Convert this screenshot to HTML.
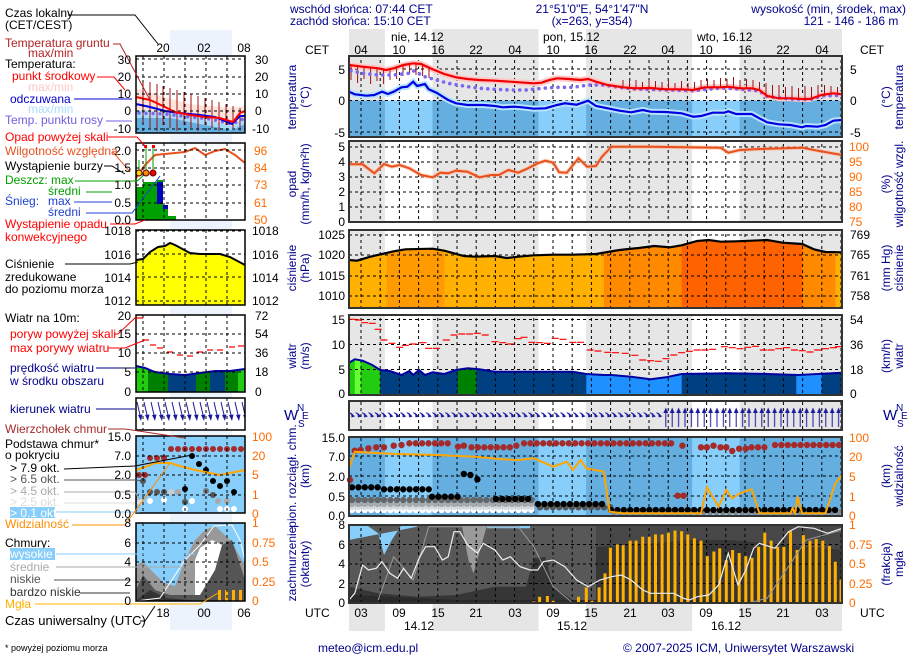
<!DOCTYPE html>
<html><head><meta charset="utf-8"><style>
html,body{margin:0;padding:0;background:#fff;}
svg{display:block;font-family:"Liberation Sans",sans-serif;}
.n{font-size:12px;fill:#000}
.b{font-size:12px;fill:#00008b}
.o{font-size:12px;fill:#ff6a00}
</style></head><body>
<svg width="910" height="660" viewBox="0 0 910 660" xmlns="http://www.w3.org/2000/svg">
<defs>
<pattern id="vg" x="360.5" y="0" width="19.2" height="6" patternUnits="userSpaceOnUse"><rect x="0" y="0" width="1" height="3" fill="#000"/></pattern>
<pattern id="ah" x="349" y="0" width="6.4" height="660" patternUnits="userSpaceOnUse"><path d="M0.3,412.5 L4,415.5" stroke="#1a1aa0" stroke-width="1"/><path d="M6,416.5 L2,412.5 L2.5,417.5Z" fill="#1a1aa0"/></pattern>
<pattern id="av" x="349" y="0" width="6.4" height="660" patternUnits="userSpaceOnUse"><path d="M3.2,427 V411" stroke="#1a1aa0" stroke-width="1"/><path d="M3.2,407.5 L0.8,413 L5.6,413Z" fill="#1a1aa0"/></pattern>
<pattern id="am" x="136" y="0" width="7" height="660" patternUnits="userSpaceOnUse"><path d="M1,402 L4.5,417" stroke="#1a1aa0" stroke-width="1"/><path d="M5,421 L2,415 L6.5,414.5Z" fill="#1a1aa0"/></pattern>
<clipPath id="pc"><polygon points="349,260 356.8,260.7 370.4,256.7 382.1,254 393.7,251.3 405.4,249.3 432.6,248.7 444.3,250.7 463.8,256 475.4,256.7 494.9,256 506.5,258 518.2,256.7 533.8,255.3 553.2,254.7 572.7,254.7 596,254 607.7,252 619.4,250 638.8,248 654.4,246 670,247.3 681.6,245.3 697.2,241 708.8,240 720.5,241.7 736.1,241.3 751.6,240.7 767.2,240 782.7,242.7 802.2,244 813.9,249.3 825.5,252 842,252.3 842,308 349,308"/></clipPath>
<clipPath id="cw"><polygon points="349,362.7 354.8,359.3 362.6,360.7 372.3,365 380.1,370 389.8,371 401.5,375 409.3,371 413.2,375 419,370 424.9,375 432.6,372.3 444.3,374 456,370 467.6,368.3 479.3,369.3 494.9,371.7 572.7,371.7 586.3,374 603.8,375 611.6,375 631,376.7 650.5,379.3 666,377.3 681.6,374 728.3,373.3 767.2,374 798.3,375 842,372.7 842,395 349,395"/></clipPath>
<clipPath id="cm"><polygon points="136,366 145,368 155,372 170,374 185,375 200,373 215,371 230,371 245,369 245,392 136,392"/></clipPath>
<clipPath id="cc"><rect x="349" y="525" width="493" height="78"/></clipPath>
</defs>
<rect x="170" y="30" width="62" height="600" fill="#edf3fc"/>

<g fill="#e6e6e6"><rect x="349" y="29" width="493" height="27"/><rect x="349" y="604" width="493" height="27"/></g>
<g fill="#fff"><rect x="384.9" y="29" width="47.6" height="27"/><rect x="538.5" y="29" width="47.6" height="27"/><rect x="692.1" y="29" width="47.6" height="27"/>
<rect x="384.9" y="604" width="47.6" height="27"/><rect x="538.5" y="604" width="47.6" height="27"/><rect x="692.1" y="604" width="47.6" height="27"/></g>

<!-- TEMPERATURE -->
<rect x="349" y="56" width="493" height="81" fill="#e6e6e6"/>
<g fill="#fff"><rect x="384.9" y="56" width="47.6" height="81"/><rect x="538.5" y="56" width="47.6" height="81"/><rect x="692.1" y="56" width="47.6" height="81"/></g>
<rect x="349" y="100.5" width="493" height="36.5" fill="#64aee0"/>
<g fill="#87cefa"><rect x="384.9" y="100.5" width="47.6" height="36.5"/><rect x="538.5" y="100.5" width="47.6" height="36.5"/><rect x="692.1" y="100.5" width="47.6" height="36.5"/></g>
<rect x="349" y="56" width="493" height="81" fill="url(#vg)"/>
<g stroke="#000" stroke-dasharray="3,3"><line x1="349" x2="842" y1="69" y2="69"/><line x1="349" x2="842" y1="100.5" y2="100.5"/><line x1="349" x2="842" y1="132" y2="132"/></g>
<polyline fill="none" stroke="#b8e4ff" stroke-width="6" points="349,91.7 354.8,94.3 366.5,95.7 374.3,95 382.1,91.7 387.9,94 393.7,91.7 401.5,87.3 407.4,86.7 413.2,81.7 417.1,86 424.9,84 428.7,89.3 436.5,92.7 448.2,100 456,103.3 467.6,105 483.2,105 494.9,106 502.7,107.3 514.3,106.7 522.1,107.3 533.8,108.7 545.4,108.3 557.1,105 564.9,103.3 576.6,104.7 588.2,100.7 596,106 607.7,108.3 619.4,110.7 631,112.3 642.7,110 650.5,111.7 666,112 681.6,113.3 693.3,116.7 701,116 712.7,112.7 724.4,112.7 728.3,111.3 736.1,114 751.6,114 759.4,118.3 767.2,122.3 778.8,124.3 790.5,125 802.2,127.3 806.1,126 817.7,126.7 825.5,125 833.3,120.7 842,120"/>
<polyline fill="none" stroke="#ffc8c8" stroke-width="6" points="349,65 362.6,66.7 378.2,68.3 386,70 393.7,68.3 403.5,65 413.2,63.3 421,64 432.6,69.3 444.3,74 456,77.3 467.6,79 479.3,80 494.9,80.7 510.4,81.7 533.8,83.3 541.6,82.7 549.3,80 557.1,78.3 568.8,79 580.5,80 588.2,79 596,81.7 607.7,85 623.2,87.3 634.9,88.3 650.5,88 666,89.3 681.6,89.3 693.3,90 704.9,87.3 720.5,87.3 728.3,86.7 739.9,88.3 751.6,88.3 759.4,90 767.2,96 778.8,98.3 790.5,98.3 802.2,99 810,99 821.6,95 833.3,93.3 842,94.3"/>
<path fill="none" stroke="#a01010" stroke-width="1" d="M351,65V80 M357.6,66V83 M364,67V79 M370.6,67.5V84 M377,68V81 M383.6,69.5V84 M390,69V80 M396.6,67V79 M403,65V76 M409.6,63.5V74 M416,63.5V75 M422.6,64V76 M429,67.5V78 M623,87V80 M629.5,88V81 M636,88V80 M642.5,88V82 M649,88V80 M655.5,88.5V81 M662,89V82 M668.5,89.3V81 M675,89.3V83 M681.5,89.3V81 M688,90V83 M694.5,89.8V82 M701,88V80 M707.5,87.3V79 M714,87.3V80 M720.5,87.3V78 M727,86.7V79 M733.5,87.5V77 M740,88.3V80 M746.5,88.3V79 M753,88.5V80 M759.5,90V82 M766,95V83 M772.5,97.5V85 M779,98.3V85 M785.5,98.3V87 M792,98.4V86 M798.5,98.8V88 M805,99V86 M811.5,98.5V87 M818,96V85 M824.5,94.5V85 M831,93.5V86 M837.5,94V87"/>
<polyline fill="none" stroke="#7b68ee" stroke-width="3.6" stroke-linecap="round" stroke-dasharray="0 6.4" points="351,70.7 362.6,73.3 378.2,75 393.7,75 409,73.3 413.2,70.7 424.9,76.7 436.5,80 448.2,83.3 463.7,86 479.3,88.3 494.9,89.3 510.4,90 526,90 541.6,88.3 557.1,87.3 572.7,87.3 588.2,85 603.8,85 619.4,87.3 634.9,89 666,90 693.3,90.7 720.5,88 739.9,89 759.4,91 767.2,96.5 790.5,99 810,99.6 821.6,96 841,95.3"/>
<polyline fill="none" stroke="#0000e0" stroke-width="2.2" points="349,91.7 354.8,94.3 366.5,95.7 374.3,95 382.1,91.7 387.9,94 393.7,91.7 401.5,87.3 407.4,86.7 413.2,81.7 417.1,86 424.9,84 428.7,89.3 436.5,92.7 448.2,100 456,103.3 467.6,105 483.2,105 494.9,106 502.7,107.3 514.3,106.7 522.1,107.3 533.8,108.7 545.4,108.3 557.1,105 564.9,103.3 576.6,104.7 588.2,100.7 596,106 607.7,108.3 619.4,110.7 631,112.3 642.7,110 650.5,111.7 666,112 681.6,113.3 693.3,116.7 701,116 712.7,112.7 724.4,112.7 728.3,111.3 736.1,114 751.6,114 759.4,118.3 767.2,122.3 778.8,124.3 790.5,125 802.2,127.3 806.1,126 817.7,126.7 825.5,125 833.3,120.7 842,120"/>
<polyline fill="none" stroke="#f00000" stroke-width="2.2" points="349,65 362.6,66.7 378.2,68.3 386,70 393.7,68.3 403.5,65 413.2,63.3 421,64 432.6,69.3 444.3,74 456,77.3 467.6,79 479.3,80 494.9,80.7 510.4,81.7 533.8,83.3 541.6,82.7 549.3,80 557.1,78.3 568.8,79 580.5,80 588.2,79 596,81.7 607.7,85 623.2,87.3 634.9,88.3 650.5,88 666,89.3 681.6,89.3 693.3,90 704.9,87.3 720.5,87.3 728.3,86.7 739.9,88.3 751.6,88.3 759.4,90 767.2,96 778.8,98.3 790.5,98.3 802.2,99 810,99 821.6,95 833.3,93.3 842,94.3"/>
<rect x="349" y="56" width="493" height="81" fill="none" stroke="#333" stroke-width="2"/>

<!-- PRECIP -->
<rect x="349" y="141" width="493" height="81" fill="#e6e6e6"/>
<g fill="#fff"><rect x="384.9" y="141" width="47.6" height="81"/><rect x="538.5" y="141" width="47.6" height="81"/><rect x="692.1" y="141" width="47.6" height="81"/></g>
<rect x="349" y="141" width="493" height="81" fill="url(#vg)"/>
<g stroke="#000" stroke-dasharray="3,3"><line x1="349" x2="842" y1="147" y2="147"/><line x1="349" x2="842" y1="162" y2="162"/><line x1="349" x2="842" y1="177" y2="177"/><line x1="349" x2="842" y1="192" y2="192"/><line x1="349" x2="842" y1="207" y2="207"/></g>
<polyline fill="none" stroke="#ffb090" stroke-opacity="0.6" stroke-width="4" points="349,164.3 362.6,164.3 374.3,173.3 384,164 391.8,166.7 399.6,165 409.3,168.3 421,175 432.6,177.3 440.4,172.7 448.2,173.3 456,170.7 467.6,171.7 479.3,177.3 491,175 498.8,175 508.5,170 518.2,172.7 527.9,168.3 537.7,163.3 545.4,160.7 553.2,162.7 559.1,172.3 566.8,172.7 578.5,158.3 587.1,166.7 596,166 601.9,156.7 611.6,146.7 623.2,146.7 650.5,146.7 720.5,147.7 728.3,152.7 739.9,150 767.2,148.7 802.2,147.7 817.7,150.7 842,155"/>
<polyline fill="none" stroke="#e8501e" stroke-width="2" points="349,164.3 362.6,164.3 374.3,173.3 384,164 391.8,166.7 399.6,165 409.3,168.3 421,175 432.6,177.3 440.4,172.7 448.2,173.3 456,170.7 467.6,171.7 479.3,177.3 491,175 498.8,175 508.5,170 518.2,172.7 527.9,168.3 537.7,163.3 545.4,160.7 553.2,162.7 559.1,172.3 566.8,172.7 578.5,158.3 587.1,166.7 596,166 601.9,156.7 611.6,146.7 623.2,146.7 650.5,146.7 720.5,147.7 728.3,152.7 739.9,150 767.2,148.7 802.2,147.7 817.7,150.7 842,155"/>
<rect x="349" y="141" width="493" height="81" fill="none" stroke="#333" stroke-width="2"/>

<!-- PRESSURE -->
<rect x="349" y="230" width="493" height="78" fill="#e6e6e6"/>
<g fill="#fff"><rect x="384.9" y="230" width="47.6" height="78"/><rect x="538.5" y="230" width="47.6" height="78"/><rect x="692.1" y="230" width="47.6" height="78"/></g>
<g clip-path="url(#pc)">
<rect x="349" y="230" width="38" height="78" fill="#ffb000"/><rect x="386.7" y="230" width="58" height="78" fill="#ff9a00"/><rect x="444.3" y="230" width="160" height="78" fill="#ffb000"/><rect x="603.8" y="230" width="78.2" height="78" fill="#ff8a00"/><rect x="681.6" y="230" width="121" height="78" fill="#ff6200"/><rect x="802.2" y="230" width="33.4" height="78" fill="#ff8a00"/><rect x="835.3" y="230" width="7" height="78" fill="#ffb000"/>
</g>
<rect x="349" y="230" width="493" height="78" fill="url(#vg)"/>
<g stroke="#000" stroke-dasharray="3,3"><line x1="349" x2="842" y1="235" y2="235"/><line x1="349" x2="842" y1="255" y2="255"/><line x1="349" x2="842" y1="276" y2="276"/><line x1="349" x2="842" y1="296" y2="296"/></g>
<polyline fill="none" stroke="#000" stroke-width="2.2" points="349,260 356.8,260.7 370.4,256.7 382.1,254 393.7,251.3 405.4,249.3 432.6,248.7 444.3,250.7 463.8,256 475.4,256.7 494.9,256 506.5,258 518.2,256.7 533.8,255.3 553.2,254.7 572.7,254.7 596,254 607.7,252 619.4,250 638.8,248 654.4,246 670,247.3 681.6,245.3 697.2,241 708.8,240 720.5,241.7 736.1,241.3 751.6,240.7 767.2,240 782.7,242.7 802.2,244 813.9,249.3 825.5,252 842,252.3"/>
<rect x="349" y="230" width="493" height="78" fill="none" stroke="#333" stroke-width="2"/>

<!-- WIND -->
<rect x="349" y="315" width="493" height="80" fill="#e6e6e6"/>
<g fill="#fff"><rect x="384.9" y="315" width="47.6" height="80"/><rect x="538.5" y="315" width="47.6" height="80"/><rect x="692.1" y="315" width="47.6" height="80"/></g>
<g clip-path="url(#cw)">
<rect x="349" y="315" width="6" height="80" fill="#22cc11"/><rect x="354.8" y="315" width="6" height="80" fill="#66ff33"/><rect x="360.6" y="315" width="20" height="80" fill="#22cc11"/><rect x="380.1" y="315" width="78" height="80" fill="#004080"/><rect x="457.9" y="315" width="18.5" height="80" fill="#008000"/><rect x="476.2" y="315" width="110.3" height="80" fill="#004080"/><rect x="586.3" y="315" width="95.5" height="80" fill="#1e90ff"/><rect x="681.6" y="315" width="115" height="80" fill="#004080"/><rect x="796.3" y="315" width="25.5" height="80" fill="#1e90ff"/><rect x="821.6" y="315" width="21" height="80" fill="#004080"/>
</g>
<rect x="349" y="315" width="493" height="80" fill="url(#vg)"/>
<g stroke="#000" stroke-dasharray="3,3"><line x1="349" x2="842" y1="319.5" y2="319.5"/><line x1="349" x2="842" y1="344.5" y2="344.5"/><line x1="349" x2="842" y1="369.5" y2="369.5"/></g>
<polyline fill="none" stroke="#0000a0" stroke-width="2" points="349,362.7 354.8,359.3 362.6,360.7 372.3,365 380.1,370 389.8,371 401.5,375 409.3,371 413.2,375 419,370 424.9,375 432.6,372.3 444.3,374 456,370 467.6,368.3 479.3,369.3 494.9,371.7 572.7,371.7 586.3,374 603.8,375 611.6,375 631,376.7 650.5,379.3 666,377.3 681.6,374 728.3,373.3 767.2,374 798.3,375 842,372.7"/>
<path fill="none" stroke="#f00" stroke-width="1.2" d="M349.5,319.3h6 M355.2,320h7 M361.1,322.7h7 M368.8,323.3h7 M374.7,329.3h7 M380.5,340h7 M388.3,343.3h7 M396.1,347.3h7 M401.9,345.3h7 M409.7,344h7 M419.4,342.7h7 M425.2,348.3h7 M433,348.3h7 M442.8,340h7 M450.5,335h7 M458.3,334h7 M466.1,334h7 M473.9,333.3h7 M481.7,335h7 M491.4,341.7h7 M499.2,342.7h7 M506.9,344h7 M514.7,338.7h7 M520.6,337.3h7 M528.3,342.3h7 M536.1,342.7h7 M543.9,343.3h7 M551.7,338.3h7 M559.5,339.3h7 M569.2,342.3h7 M577,342.3h7 M586.7,350h7 M594.5,351h7 M604.2,352.3h7 M612,352.7h7 M621.7,353.3h7 M631.4,355.3h7 M639.2,360h7 M647,360.7h7 M654.8,361.3h7 M662.5,358.7h7 M670.3,355h7 M678.1,352.7h7 M685.9,351.3h7 M693.7,350h7 M701.4,350h7 M709.2,349.3h7 M720.9,346.7h7 M728.7,347.7h7 M736.4,348.7h7 M744.2,347.3h7 M752,346.3h7 M759.8,350h7 M767.6,350h7 M775.3,348.7h7 M783.1,347.7h7 M790.9,350h7 M798.7,350.7h7 M806.5,352h7 M814.2,350h7 M822,348.7h7 M829.8,347.7h7 M835,346.7h6"/>
<rect x="349" y="315" width="493" height="80" fill="none" stroke="#333" stroke-width="2"/>

<!-- WIND DIR -->
<rect x="349" y="401" width="493" height="29" fill="#e6e6e6"/>
<g fill="#fff"><rect x="384.9" y="401" width="47.6" height="29"/><rect x="538.5" y="401" width="47.6" height="29"/><rect x="692.1" y="401" width="47.6" height="29"/></g>
<rect x="349" y="401" width="493" height="29" fill="url(#vg)"/>
<rect x="349" y="401" width="314" height="29" fill="url(#ah)"/>
<rect x="662.6" y="401" width="179" height="29" fill="url(#av)"/>
<rect x="349" y="401" width="493" height="29" fill="none" stroke="#333" stroke-width="2"/>

<!-- CLOUD BASE -->
<rect x="349" y="437" width="493" height="79" fill="#64aee0"/>
<g fill="#87cefa"><rect x="384.9" y="437" width="47.6" height="79"/><rect x="538.5" y="437" width="47.6" height="79"/><rect x="692.1" y="437" width="47.6" height="79"/></g>
<rect x="349" y="437" width="493" height="79" fill="url(#vg)"/>
<g stroke="#000" stroke-dasharray="3,3"><line x1="349" x2="842" y1="456" y2="456"/><line x1="349" x2="842" y1="476" y2="476"/><line x1="349" x2="842" y1="496" y2="496"/></g>
<g stroke-linecap="round" stroke-dasharray="0 6.4" stroke-width="6.3">
<line x1="352" x2="534" y1="510" y2="510" stroke="#fff"/>
<line x1="352" x2="534" y1="507" y2="507" stroke="#ddd"/>
<line x1="352" x2="534" y1="504" y2="504" stroke="#aaa"/>
<line x1="352" x2="534" y1="500" y2="500" stroke="#666"/>
<line x1="540" x2="611" y1="507.3" y2="507.3" stroke="#555"/>
<line x1="614" x2="840" y1="512" y2="512" stroke="#888"/>
<line x1="352" x2="382" y1="487.3" y2="487.3" stroke="#000"/>
<line x1="384" x2="429" y1="489.3" y2="489.3" stroke="#000"/>
<line x1="432" x2="460" y1="496.7" y2="496.7" stroke="#000"/>
<line x1="496" x2="534" y1="499" y2="499" stroke="#000"/>
<line x1="538" x2="608" y1="504" y2="504" stroke="#000"/>
<line x1="611" x2="840" y1="510" y2="510" stroke="#000"/>
<line x1="409.3" x2="454" y1="443.3" y2="443.3" stroke="#a52a2a"/>
<line x1="471.5" x2="510.4" y1="447.3" y2="447.3" stroke="#a52a2a"/>
<line x1="524" x2="676" y1="443.3" y2="443.3" stroke="#a52a2a"/>
<line x1="751.6" x2="767.2" y1="447.3" y2="447.3" stroke="#a52a2a"/>
<line x1="775" x2="840" y1="445" y2="445" stroke="#a52a2a"/>
</g>
<g fill="#000"><circle cx="463.8" cy="474" r="3.2"/><circle cx="470.4" cy="475" r="3.2"/><circle cx="477.4" cy="479.3" r="3.2"/></g>
<g fill="#a52a2a"><circle cx="350" cy="480" r="3.2"/><circle cx="354.8" cy="450.7" r="3.2"/><circle cx="360.6" cy="450" r="3.2"/><circle cx="368.4" cy="448.3" r="3.2"/><circle cx="376.2" cy="447.3" r="3.2"/><circle cx="384" cy="447.3" r="3.2"/><circle cx="393.7" cy="445.7" r="3.2"/><circle cx="401.5" cy="445" r="3.2"/><circle cx="458" cy="446.7" r="3.2"/><circle cx="463.8" cy="445.7" r="3.2"/><circle cx="516.3" cy="445.7" r="3.2"/><circle cx="682.4" cy="445.7" r="3.2"/><circle cx="677.7" cy="495.7" r="3.2"/><circle cx="683.5" cy="495.7" r="3.2"/><circle cx="701" cy="447.3" r="3.2"/><circle cx="706.9" cy="447.3" r="3.2"/><circle cx="713.5" cy="445.7" r="3.2"/><circle cx="720.5" cy="447.3" r="3.2"/><circle cx="726.3" cy="447.3" r="3.2"/><circle cx="732.2" cy="451" r="3.2"/><circle cx="739.2" cy="448.7" r="3.2"/><circle cx="745.8" cy="448.7" r="3.2"/></g>
<polyline fill="none" stroke="#ffa500" stroke-width="2" points="349,468.3 354.8,451.7 370.4,452.7 397.6,454 436.5,455 475.4,456.7 502.7,459.3 518.2,460 533.8,458.3 553.2,466.7 566.8,461.7 572.7,470 580.5,460 586.3,468.3 603.8,471.7 609.6,511.7 623.2,513.3 701,513.3 706.9,487.3 718.6,506.7 726.3,490 732.2,498.3 739.9,493.3 751.6,489.3 759.4,513.3 790.5,513.3 792.5,508.3 795.2,513.3 797.5,496.7 802.2,513.3 825.5,513.3 835.3,483.3 842,475"/>
<rect x="349" y="437" width="493" height="79" fill="none" stroke="#333" stroke-width="2"/>

<!-- CLOUD COVER -->
<g clip-path="url(#cc)">
<rect x="349" y="525" width="493" height="78" fill="#363636"/>
<polygon fill="#585858" points="349,525 596,525 596,603 572.7,600 553.2,586.7 545.4,556.7 533.8,558.3 526,586.7 494.9,586.7 456,595 417.1,596.7 378.2,593.3 349,586.7"/>
<polygon fill="#474747" points="596,525 842,525 842,550 806,546.7 767,543.3 728,540 689,540 650,543.3 611,546.7 596,546.7"/>
<polygon fill="#87cefa" points="349,525 366.5,525 378.2,533.3 384,555 391.8,540 401.5,525 417.1,525 417.1,526.7 349,540"/>
<polygon fill="#87cefa" points="487,525 530,525 530,528.3 487,528.3"/>
<polygon fill="#9a9a9a" points="461.8,525 487.1,525 473.5,573.3 468.4,560"/>
<polygon fill="#2a2a2a" points="349,595 456,600 842,600 842,603 349,603"/>
</g>
<rect x="349" y="525" width="493" height="78" fill="url(#vg)"/>
<g stroke="#000" stroke-dasharray="3,3"><line x1="349" x2="842" y1="544.5" y2="544.5"/><line x1="349" x2="842" y1="564" y2="564"/><line x1="349" x2="842" y1="583.5" y2="583.5"/></g>
<g fill="#ffb000">
<rect x="532.3" y="601.4" width="3" height="1.6"/><rect x="538.1" y="596.8" width="3" height="6.2"/><rect x="545.9" y="596" width="3" height="7"/><rect x="551.7" y="600.7" width="3" height="2.3"/><rect x="577" y="596.8" width="3" height="6.2"/><rect x="584.8" y="587.4" width="3" height="15.6"/><rect x="590.6" y="600.7" width="3" height="2.3"/><rect x="597.6" y="587.4" width="3" height="15.6"/><rect x="603.5" y="573.4" width="3" height="29.6"/><rect x="608.9" y="547.6" width="3" height="55.4"/><rect x="615.9" y="544.5" width="3" height="58.5"/><rect x="621.7" y="545.3" width="3" height="57.7"/><rect x="628.7" y="540.6" width="3" height="62.4"/><rect x="634.6" y="540.6" width="3" height="62.4"/><rect x="641.2" y="536.7" width="3" height="66.3"/><rect x="647.8" y="536.7" width="3" height="66.3"/><rect x="654" y="534.4" width="3" height="68.6"/><rect x="660.6" y="534.4" width="3" height="68.6"/><rect x="666.9" y="532.8" width="3" height="70.2"/><rect x="673.5" y="530.5" width="3" height="72.5"/><rect x="680.1" y="531.2" width="3" height="71.8"/><rect x="686.3" y="534.4" width="3" height="68.6"/><rect x="692.9" y="538.3" width="3" height="64.7"/><rect x="699.5" y="540.6" width="3" height="62.4"/><rect x="705.8" y="556.2" width="3" height="46.8"/><rect x="712.4" y="551.5" width="3" height="51.5"/><rect x="718.2" y="548.4" width="3" height="54.6"/><rect x="724.8" y="560.1" width="3" height="42.9"/><rect x="731.1" y="550" width="3" height="53"/><rect x="737.7" y="553.1" width="3" height="49.9"/><rect x="744.3" y="556.2" width="3" height="46.8"/><rect x="750.5" y="557.8" width="3" height="45.2"/><rect x="757.1" y="546.8" width="3" height="56.2"/><rect x="763.3" y="532.8" width="3" height="70.2"/><rect x="769.6" y="540.6" width="3" height="62.4"/><rect x="776.2" y="546.8" width="3" height="56.2"/><rect x="782.4" y="546.8" width="3" height="56.2"/><rect x="789" y="531.2" width="3" height="71.8"/><rect x="795.6" y="550" width="3" height="53"/><rect x="801.9" y="535.1" width="3" height="67.9"/><rect x="808.5" y="540.6" width="3" height="62.4"/><rect x="814.7" y="539" width="3" height="64"/><rect x="821.3" y="540.6" width="3" height="62.4"/><rect x="827.9" y="546.1" width="3" height="56.9"/><rect x="833.8" y="561.7" width="3" height="41.3"/><rect x="839.5" y="579.6" width="2.5" height="23.4"/>
</g>
<polyline fill="none" stroke="#999" stroke-width="1" points="378.2,600 393.7,556.7 413.2,580 428.7,526.7 518.2,526.7 533.8,546.7 553.2,586.7 572.7,603 747.7,603 767.2,598.3 806.1,540 842,530"/>
<polyline fill="none" stroke="#eee" stroke-width="1.2" points="349,600 354.8,593.3 362.6,565 368.4,570 376.2,568.3 382.1,561.7 389.8,573.3 397.6,578.3 403.5,568.3 411.2,578.3 419,558.3 425.6,546.7 434.6,546.7 442.4,560 448.2,556.7 454,531.7 459.9,531.7 467.6,545 477.4,553.3 483.2,543.3 494.9,550 502.7,560 510.4,556.7 520.2,566.7 529.9,570 537.7,570 543.5,561.7 553.2,560 564.9,566.7 576.6,580 588.2,586.7 599.9,580 611.6,576.7 621.3,575 631,580 642.7,590 650.5,593.3 673.8,593.3 683.5,598.3 689.4,600 697.2,596.7 708.8,595 718.6,585 728.3,553.3 738,585 745.8,570 753.6,548.3 759.4,543.3 774.9,548.3 788.6,531.7 798.3,526.7 813.9,528.3 827.5,533.3 842,528.3"/>
<rect x="349" y="525" width="493" height="78" fill="none" stroke="#333" stroke-width="2"/>

<!-- MINI CHART -->
<rect x="136" y="56" width="109" height="77" fill="#fff"/>
<polygon points="136,88 160,96 190,104 230,108 245,106 245,133 136,133" fill="#ffe4dc"/>
<polygon points="136,110 170,112 200,118 232,126 245,118 245,133 136,133" fill="#a8dcff"/>
<polygon points="136,118 170,118 200,124 232,130 245,124 245,133 136,133" fill="#64aee0"/>
<path fill="none" stroke="#a01010" d="M143,80V125 M150,82V128 M157,84V131 M163,86V125 M170,88V128 M177,90V131 M184,92V125 M191,94V128 M198,96V131 M205,98V125 M212,100V128 M219,102V131 M226,104V125 M233,106V128 M240,108V131"/>
<polyline fill="none" stroke="#7b68ee" stroke-width="3.4" stroke-linecap="round" stroke-dasharray="0 7" points="139,113 165,114 190,117 210,119 232,124 245,118"/>
<polyline fill="none" stroke="#0000e0" stroke-width="2" points="136,104 150,107 165,111 180,113 200,115 215,117 232,124 240,116 245,116"/>
<polyline fill="none" stroke="#f00" stroke-width="2" points="136,97 150,100 163,106 175,112 190,115 205,117 220,118 233,122 240,113 245,111"/>
<rect x="136" y="143" width="109" height="77" fill="#fff"/>
<polygon points="136,220 136,187 143,187 143,182 157,182 157,180 163,180 163,206 168,206 168,216 176,216 176,220" fill="#00a000"/>
<rect x="157" y="182" width="6" height="22" fill="#0000c0"/><rect x="163" y="205" width="5" height="4" fill="#0000c0"/>
<polyline fill="none" stroke="#e8501e" stroke-width="2" points="136,178 145,165 155,155 175,153 185,152 195,148 205,155 215,151 225,149 235,155 245,163"/>
<g stroke="#00a000"><line x1="139" y1="160" x2="139" y2="173"/><line x1="146" y1="147" x2="146" y2="173"/><line x1="153" y1="147" x2="153" y2="173"/></g>
<circle cx="139" cy="173" r="3" fill="#ffd700" stroke="#600"/><circle cx="146" cy="173" r="3" fill="#ff8c00" stroke="#600"/><circle cx="153" cy="173" r="3" fill="#e00" stroke="#600"/>
<rect x="144" y="145" width="3" height="3" fill="#f00"/><rect x="152" y="145" width="3" height="3" fill="#f00"/>
<rect x="136" y="230" width="109" height="75" fill="#fff"/>
<polygon points="136,260 143,259 150,252 158,247 165,246 170,243 175,245 190,253 200,254 220,254 230,257 245,265 245,305 136,305" fill="#ffff00"/>
<polyline fill="none" stroke="#000" stroke-width="2" points="136,260 143,259 150,252 158,247 165,246 170,243 175,245 190,253 200,254 220,254 230,257 245,265"/>
<rect x="136" y="315" width="109" height="77" fill="#fff"/>
<g clip-path="url(#cm)"><rect x="136" y="315" width="12" height="77" fill="#22cc11"/><rect x="148" y="315" width="20" height="77" fill="#008000"/><rect x="168" y="315" width="28" height="77" fill="#004080"/><rect x="196" y="315" width="14" height="77" fill="#008000"/><rect x="210" y="315" width="15" height="77" fill="#004080"/><rect x="225" y="315" width="13" height="77" fill="#008000"/><rect x="238" y="315" width="7" height="77" fill="#22cc11"/></g>
<polyline fill="none" stroke="#0000a0" stroke-width="2" points="136,366 145,368 155,372 170,374 185,375 200,373 215,371 230,371 245,369"/>
<path fill="none" stroke="#f00" stroke-width="1.2" d="M137,318h6 M143,340h6 M150,345h6 M157,348h6 M167,352h6 M177,355h6 M187,356h6 M197,352h6 M207,350h6 M217,350h6 M229,347h6 M238,346h6"/>
<rect x="136" y="398" width="109" height="32" fill="#fff"/>
<rect x="136" y="398" width="109" height="32" fill="url(#am)"/>
<rect x="136" y="436" width="109" height="77" fill="#87cefa"/>
<g fill="#a52a2a"><circle cx="139" cy="475" r="3"/><circle cx="145" cy="475" r="3"/><circle cx="150" cy="458" r="3"/><circle cx="157" cy="458" r="3"/><circle cx="164" cy="458" r="3"/></g>
<line x1="171" x2="242" y1="449" y2="449" stroke="#a52a2a" stroke-width="6" stroke-linecap="round" stroke-dasharray="0 7"/>
<g><circle cx="143" cy="481" r="3" fill="#555"/><circle cx="150" cy="492" r="3" fill="#555"/><circle cx="157" cy="492" r="3" fill="#555"/><circle cx="164" cy="492" r="3" fill="#555"/><circle cx="185" cy="489" r="3" fill="#000"/><circle cx="192" cy="456" r="3" fill="#000"/><circle cx="199" cy="464" r="3" fill="#000"/><circle cx="206" cy="470" r="3" fill="#000"/><circle cx="213" cy="481" r="3" fill="#000"/><circle cx="220" cy="486" r="3" fill="#000"/><circle cx="227" cy="481" r="3" fill="#000"/><circle cx="234" cy="492" r="3" fill="#000"/><circle cx="171" cy="492" r="3" fill="#ccc"/><circle cx="178" cy="492" r="3" fill="#aaa"/><circle cx="185" cy="502" r="3" fill="#555"/><circle cx="206" cy="491" r="3" fill="#777"/><circle cx="213" cy="495" r="3" fill="#555"/><circle cx="218" cy="501" r="3" fill="#aaa"/><circle cx="227" cy="501" r="3" fill="#aaa"/><circle cx="140" cy="502" r="3" fill="#ddd"/><circle cx="150" cy="501" r="3" fill="#fff"/><circle cx="164" cy="500" r="3" fill="#fff"/><circle cx="185" cy="509" r="3" fill="#fff"/><circle cx="192" cy="501" r="3" fill="#fff"/><circle cx="220" cy="509" r="3" fill="#fff"/><circle cx="227" cy="509" r="3" fill="#fff"/><circle cx="234" cy="509" r="3" fill="#fff"/></g>
<polyline fill="none" stroke="#ffa500" stroke-width="2" points="136,470 145,467 155,463 170,463 180,466 195,470 210,473 220,475 235,472 245,470"/>
<rect x="136" y="523" width="109" height="78" fill="#87cefa"/>
<polygon points="136,565 143,562 164,583 175,586 185,560 195,540 205,530 215,526 230,540 245,565 245,601 136,601" fill="#999"/>
<polygon points="195,560 200,548 212,540 222,545 230,560 240,590 245,601 195,601" fill="#fff"/>
<polygon points="136,590 143,575 155,590 170,595 200,595 215,570 222,545 232,540 245,580 245,601 136,601" fill="#555"/>
<polygon points="136,601 150,590 165,598 200,601" fill="#333"/>
<g fill="#ffb000"><rect x="218" y="590" width="3" height="11"/><rect x="225" y="590" width="3" height="11"/><rect x="232" y="590" width="3" height="11"/><rect x="239" y="590" width="3" height="11"/></g>
<polyline fill="none" stroke="#fff" points="136,601 160,598 185,560 200,545 214,526 232,525 240,540 245,560"/>
<g stroke="#000" stroke-dasharray="3,3" fill="none">
<path d="M143,56V133 M164,56V133 M185,56V133 M206,56V133 M227,56V133 M136,59H245 M136,77H245 M136,94H245 M136,111H245 M136,129H245"/>
<path d="M143,143V220 M164,143V220 M185,143V220 M206,143V220 M227,143V220 M136,150H245 M136,168H245 M136,185H245 M136,203H245"/>
<path d="M143,230V305 M164,230V305 M185,230V305 M206,230V305 M227,230V305 M136,231H245 M136,254H245 M136,277H245 M136,301H245"/>
<path d="M143,315V392 M164,315V392 M185,315V392 M206,315V392 M227,315V392 M136,334H245 M136,353H245 M136,372H245"/>
<path d="M143,398V430 M164,398V430 M185,398V430 M206,398V430 M227,398V430"/>
<path d="M143,436V513 M164,436V513 M185,436V513 M206,436V513 M227,436V513 M136,456H245 M136,475H245 M136,495H245"/>
<path d="M143,523V601 M164,523V601 M185,523V601 M206,523V601 M227,523V601 M136,543H245 M136,562H245 M136,582H245"/>
</g>
<g fill="none" stroke="#000" stroke-width="1.5">
<rect x="136" y="56" width="109" height="77"/><rect x="136" y="143" width="109" height="77"/><rect x="136" y="230" width="109" height="75"/><rect x="136" y="315" width="109" height="77"/><rect x="136" y="398" width="109" height="32"/><rect x="136" y="436" width="109" height="77"/><rect x="136" y="523" width="109" height="78"/>
</g>
<g fill="none" stroke-width="1">
<polyline stroke="#000" points="68,15 135,15 158,44"/>
<polyline stroke="#b22222" points="113,44 120,44 150,100"/>
<polyline stroke="#f00" points="97,77 114,77 125,90"/>
<polyline stroke="#00c" points="74,99 132,99"/>
<polyline stroke="#7060e0" points="106,121 132,121"/>
<polyline stroke="#f00" points="108,137 137,137 146,147"/>
<polyline stroke="#e8501e" points="112,152 113,152 130,172"/>
<polyline stroke="#000" points="104,166 112,166 125,174"/>
<polyline stroke="#00a000" points="75,181 137,181 143,176"/>
<polyline stroke="#00a000" points="86,192 112,192"/>
<polyline stroke="#2040d0" points="74,202 112,202"/>
<polyline stroke="#2040d0" points="86,213 132,213 160,176"/>
<polyline stroke="#f00" points="110,224 135,224 145,220"/>
<polyline stroke="#000" points="65,264 130,264 138,262"/>
<polyline stroke="#f00" points="114,334 118,334 136,317"/>
<polyline stroke="#f00" points="108,348 125,348 145,340"/>
<polyline stroke="#00008b" points="96,368 135,368"/>
<polyline stroke="#00008b" points="96,409 135,409"/>
<polyline stroke="#a52a2a" points="108,429 125,429 185,438"/>
<polyline stroke="#000" points="64,469 135,466 192,455"/>
<polyline stroke="#555" points="64,480 135,480 143,481"/>
<polyline stroke="#aaa" points="64,492 135,492 140,500"/>
<polyline stroke="#ddd" points="64,503 135,503"/>
<polyline stroke="#87cefa" points="56,512 140,512"/>
<polyline stroke="#ff8c00" points="72,525 125,525 170,463"/>
<polyline stroke="#87cefa" points="56,554 195,554"/>
<polyline stroke="#aaa" points="56,567 190,567"/>
<polyline stroke="#555" points="54,580 130,580"/>
<polyline stroke="#333" points="80,593 130,593"/>
<polyline stroke="#ffb000" points="35,604 200,604 218,593"/>
<polyline stroke="#000" points="140,621 145,621 155,606"/>
</g>

<!-- TEXT -->
<text class="b" x="290" y="13">wschód słońca: 07:44 CET</text>
<text class="b" x="290" y="25">zachód słońca: 15:10 CET</text>
<text class="b" x="592" y="13" text-anchor="middle">21°51'0"E, 54°1'47"N</text>
<text class="b" x="592" y="25" text-anchor="middle">(x=263,  y=354)</text>
<text class="b" x="906" y="13" text-anchor="end">wysokość (min, środek, max)</text>
<text class="b" x="851" y="25" text-anchor="middle">121 - 146 - 186 m</text>
<text class="n" x="391" y="41">nie, 14.12</text>
<text class="n" x="543" y="41">pon, 15.12</text>
<text class="n" x="697" y="41">wto, 16.12</text>
<text class="n" x="305" y="54" font-size="13">CET</text>
<text class="n" x="860" y="54" font-size="13">CET</text>
<g class="n" text-anchor="middle" font-size="13">
<text x="361" y="54">04</text><text x="399" y="54">10</text><text x="438" y="54">16</text><text x="476" y="54">22</text><text x="515" y="54">04</text><text x="553" y="54">10</text><text x="591" y="54">16</text><text x="630" y="54">22</text><text x="668" y="54">04</text><text x="706" y="54">10</text><text x="745" y="54">16</text><text x="783" y="54">22</text><text x="822" y="54">04</text>
<text x="361" y="617">03</text><text x="399" y="617">09</text><text x="438" y="617">15</text><text x="476" y="617">21</text><text x="515" y="617">03</text><text x="553" y="617">09</text><text x="591" y="617">15</text><text x="630" y="617">21</text><text x="668" y="617">03</text><text x="706" y="617">09</text><text x="745" y="617">15</text><text x="783" y="617">21</text><text x="822" y="617">03</text>
<text x="419" y="630">14.12</text><text x="572" y="630">15.12</text><text x="726" y="630">16.12</text>
</g>
<text class="n" x="305" y="617" font-size="13">UTC</text>
<text class="n" x="860" y="617" font-size="13">UTC</text>
<g class="n" text-anchor="end">
<text x="345" y="74">5</text><text x="345" y="105">0</text><text x="345" y="137">-5</text>
<text x="345" y="151">5</text><text x="345" y="166">4</text><text x="345" y="181">3</text><text x="345" y="196">2</text><text x="345" y="211">1</text><text x="345" y="226">0</text>
<text x="345" y="239">1025</text><text x="345" y="259">1020</text><text x="345" y="280">1015</text><text x="345" y="300">1010</text>
<text x="345" y="324">15</text><text x="345" y="349">10</text><text x="345" y="374">5</text><text x="345" y="398">0</text>
<text x="345" y="442">15.0</text><text x="345" y="461">7.0</text><text x="345" y="481">2.0</text><text x="345" y="501">0.5</text><text x="345" y="520">0.0</text>
<text x="345" y="529">8</text><text x="345" y="549">6</text><text x="345" y="568">4</text><text x="345" y="588">2</text><text x="345" y="607">0</text>
</g>
<g class="n">
<text x="850" y="74">5</text><text x="850" y="105">0</text><text x="850" y="137">-5</text>
<text x="850" y="239">769</text><text x="850" y="259">765</text><text x="850" y="280">761</text><text x="850" y="300">758</text>
<text x="850" y="324">54</text><text x="850" y="349">36</text><text x="850" y="374">18</text><text x="850" y="398">0</text>
</g>
<g class="o">
<text x="849" y="151">100</text><text x="849" y="166">95</text><text x="849" y="181">90</text><text x="849" y="196">85</text><text x="849" y="211">80</text><text x="849" y="226">75</text>
<text x="849" y="442">100</text><text x="849" y="461">20</text><text x="849" y="481">5</text><text x="849" y="501">1</text><text x="849" y="520">0</text>
<text x="849" y="529">1</text><text x="849" y="549">0.75</text><text x="849" y="568">0.5</text><text x="849" y="588">0.25</text><text x="849" y="607">0</text>
</g>
<g class="b" text-anchor="middle" font-size="13">
<text transform="translate(296,97) rotate(-90)">temperatura</text>
<text transform="translate(309,97) rotate(-90)">(°C)</text>
<text transform="translate(296,184) rotate(-90)">opad</text>
<text transform="translate(309,184) rotate(-90)">(mm/h, kg/m²h)</text>
<text transform="translate(296,268) rotate(-90)">ciśnienie</text>
<text transform="translate(309,268) rotate(-90)">(hPa)</text>
<text transform="translate(296,356) rotate(-90)">wiatr</text>
<text transform="translate(309,356) rotate(-90)">(m/s)</text>
<text transform="translate(296,476) rotate(-90)">pion. rozciągł. chm.</text>
<text transform="translate(309,476) rotate(-90)">(km)</text>
<text transform="translate(296,564) rotate(-90)">zachmurzenie</text>
<text transform="translate(309,564) rotate(-90)">(oktanty)</text>
<text transform="translate(890,97) rotate(-90)">(°C)</text>
<text transform="translate(903,97) rotate(-90)">temperatura</text>
<text transform="translate(890,184) rotate(-90)">(%)</text>
<text transform="translate(903,184) rotate(-90)">wilgotność wzgl.</text>
<text transform="translate(890,268) rotate(-90)">(mm Hg)</text>
<text transform="translate(903,268) rotate(-90)">ciśnienie</text>
<text transform="translate(890,356) rotate(-90)">(km/h)</text>
<text transform="translate(903,356) rotate(-90)">wiatr</text>
<text transform="translate(890,476) rotate(-90)">(km)</text>
<text transform="translate(903,476) rotate(-90)">widzialność</text>
<text transform="translate(890,564) rotate(-90)">(frakcja)</text>
<text transform="translate(903,564) rotate(-90)">mgła</text>
</g>
<g class="b">
<text x="883" y="420" font-size="15">W</text><text x="896" y="411" font-size="10">N</text><text x="897" y="427" font-size="10">S</text><text x="901" y="419" font-size="10">E</text>
<text x="284" y="420" font-size="15">W</text><text x="297" y="411" font-size="10">N</text><text x="298" y="427" font-size="10">S</text><text x="302" y="419" font-size="10">E</text>
</g>
<text class="b" x="318" y="652" font-size="13">meteo@icm.edu.pl</text>
<text class="b" x="623" y="652" font-size="13">© 2007-2025 ICM, Uniwersytet Warszawski</text>
<g class="n" text-anchor="middle" font-size="13">
<text x="163" y="52">20</text><text x="204" y="52">02</text><text x="244" y="52">08</text>
<text x="163" y="617">18</text><text x="204" y="617">00</text><text x="244" y="617">06</text>
</g>
<g class="n" text-anchor="end">
<text x="131" y="64">30</text><text x="131" y="81">20</text><text x="131" y="98">10</text><text x="131" y="115">0</text><text x="131" y="133">-10</text>
<text x="131" y="155">2.0</text><text x="131" y="172">1.5</text><text x="131" y="189">1.0</text><text x="131" y="207">0.5</text><text x="131" y="224">0.0</text>
<text x="131" y="235">1018</text><text x="131" y="259">1016</text><text x="131" y="282">1014</text><text x="131" y="305">1012</text>
<text x="131" y="320">20</text><text x="131" y="338">15</text><text x="131" y="357">10</text><text x="131" y="376">5</text><text x="131" y="396">0</text>
<text x="131" y="441">15.0</text><text x="131" y="460">7.0</text><text x="131" y="479">2.0</text><text x="131" y="499">0.5</text><text x="131" y="518">0.0</text>
<text x="131" y="527">8</text><text x="131" y="547">6</text><text x="131" y="566">4</text><text x="131" y="586">2</text><text x="131" y="605">0</text>
</g>
<g class="n">
<text x="255" y="64">30</text><text x="255" y="81">20</text><text x="255" y="98">10</text><text x="255" y="115">0</text><text x="252" y="133">-10</text>
<text x="252" y="235">1018</text><text x="252" y="259">1016</text><text x="252" y="282">1014</text><text x="252" y="305">1012</text>
<text x="255" y="320">72</text><text x="255" y="338">54</text><text x="255" y="357">36</text><text x="255" y="376">18</text><text x="255" y="396">0</text>
</g>
<g class="o">
<text x="254" y="155">96</text><text x="254" y="172">84</text><text x="254" y="189">73</text><text x="254" y="207">61</text><text x="254" y="224">50</text>
<text x="252" y="441">100</text><text x="252" y="460">20</text><text x="252" y="479">5</text><text x="252" y="499">1</text><text x="252" y="518">0</text>
<text x="252" y="527">1</text><text x="252" y="547">0.75</text><text x="252" y="566">0.5</text><text x="252" y="586">0.25</text><text x="252" y="605">0</text>
</g>
<g font-size="12">
<text x="5" y="17" fill="#000">Czas lokalny</text>
<text x="5" y="29" fill="#000">(CET/CEST)</text>
<text x="5" y="47" fill="#b22222">Temperatura gruntu</text>
<text x="28" y="57" fill="#b22222">max/min</text>
<text x="5" y="68" fill="#000">Temperatura:</text>
<text x="12" y="80" fill="#f00">punkt środkowy</text>
<text x="28" y="91" fill="#ffc8c8">max/min</text>
<text x="10" y="103" fill="#00c">odczuwana</text>
<text x="28" y="113" fill="#a8dcff">max/min</text>
<text x="5" y="124" fill="#7060e0">Temp. punktu rosy</text>
<text x="5" y="141" fill="#f00">Opad powyżej skali</text>
<text x="5" y="155" fill="#e8501e">Wilgotność względna</text>
<text x="5" y="170" fill="#000">Wystąpienie burzy</text>
<text x="5" y="184" fill="#00a000">Deszcz: max</text>
<text x="48" y="195" fill="#00a000">średni</text>
<text x="5" y="205" fill="#2040d0">Śnieg:</text>
<text x="48" y="205" fill="#2040d0">max</text>
<text x="48" y="216" fill="#2040d0">średni</text>
<text x="5" y="228" fill="#f00">Wystąpienie opadu</text>
<text x="5" y="241" fill="#f00">konwekcyjnego</text>
<text x="5" y="268" fill="#000">Ciśnienie</text>
<text x="5" y="281" fill="#000">zredukowane</text>
<text x="5" y="293" fill="#000">do poziomu morza</text>
<text x="5" y="322" fill="#000">Wiatr na 10m:</text>
<text x="10" y="338" fill="#f00">poryw powyżej skali</text>
<text x="10" y="352" fill="#f00">max porywy wiatru</text>
<text x="10" y="372" fill="#00008b">prędkość wiatru</text>
<text x="10" y="385" fill="#00008b">w środku obszaru</text>
<text x="10" y="413" fill="#00008b">kierunek wiatru</text>
<text x="5" y="433" fill="#a52a2a">Wierzchołek chmur</text>
<text x="5" y="448" fill="#000">Podstawa chmur*</text>
<text x="5" y="459" fill="#000">o pokryciu</text>
<text x="10" y="472" fill="#000">&gt; 7.9 okt.</text>
<text x="10" y="483" fill="#555">&gt; 6.5 okt.</text>
<text x="10" y="495" fill="#aaa">&gt; 4.5 okt.</text>
<text x="10" y="506" fill="#ddd">&gt; 2.5 okt.</text>
<rect x="10" y="507" width="45" height="11" fill="#87cefa"/>
<text x="10" y="517" fill="#fff">&gt; 0.1 okt.</text>
<text x="5" y="528" fill="#ff8c00">Widzialność</text>
<text x="5" y="547" fill="#000">Chmury:</text>
<rect x="10" y="548" width="45" height="12" fill="#87cefa"/>
<text x="10" y="558" fill="#fff">wysokie</text>
<text x="10" y="571" fill="#aaa">średnie</text>
<text x="10" y="583" fill="#555">niskie</text>
<text x="10" y="596" fill="#333">bardzo niskie</text>
<text x="5" y="608" fill="#ffb000">Mgła</text>
<text x="5" y="625" fill="#000" font-size="13">Czas uniwersalny (UTC)</text>
<text x="5" y="651" fill="#000" font-size="9">* powyżej poziomu morza</text>
</g>
</svg>
</body></html>
